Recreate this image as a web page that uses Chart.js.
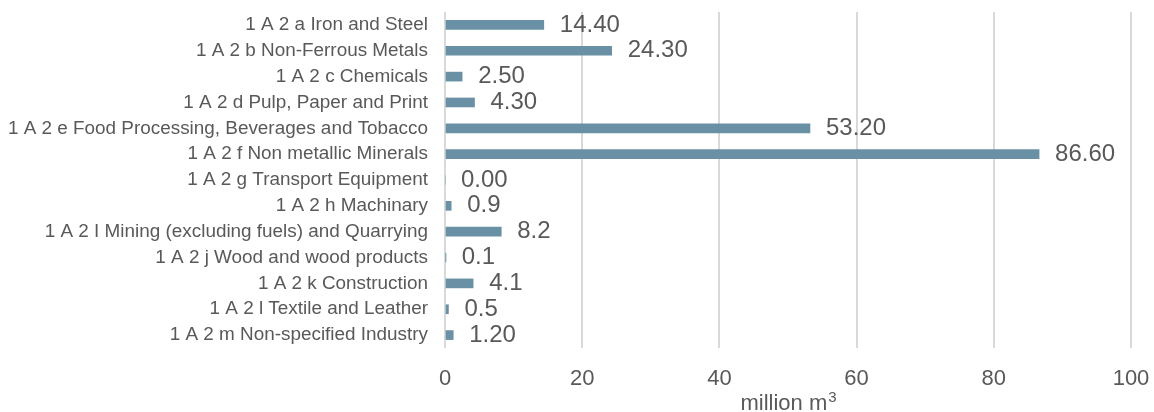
<!DOCTYPE html>
<html>
<head>
<meta charset="utf-8">
<title>Industry sub-categories</title>
<script src="https://cdn.jsdelivr.net/npm/chart.js@4"></script>
<style>
  body { margin: 0; background: #fff; }
  #wrap { width: 1154px; height: 412px; }
</style>
</head>
<body>
<div id="wrap"><canvas id="myChart" width="1154" height="412"></canvas></div>
<script>
// categories and values (million m3)
const categories = [
    '1 A 2 a Iron and Steel',
    '1 A 2 b Non-Ferrous Metals',
    '1 A 2 c Chemicals',
    '1 A 2 d Pulp, Paper and Print',
    '1 A 2 e Food Processing, Beverages and Tobacco',
    '1 A 2 f Non metallic Minerals',
    '1 A 2 g Transport Equipment',
    '1 A 2 h Machinary',
    '1 A 2 I Mining (excluding fuels) and Quarrying',
    '1 A 2 j Wood and wood products',
    '1 A 2 k Construction',
    '1 A 2 l Textile and Leather',
    '1 A 2 m Non-specified Industry'
];
const values = [14.40, 24.30, 2.50, 4.30, 53.20, 86.60, 0.00, 0.9, 8.2, 0.1, 4.1, 0.5, 1.20];
// number of decimals shown in each value label
const decimals = [2, 2, 2, 2, 2, 2, 2, 1, 1, 1, 1, 1, 2];
const xTicks = [0, 20, 40, 60, 80, 100];

const FONT = '"Liberation Sans", Arial, sans-serif';
const TEXT = '#595959';

// writes the value next to the end of each bar
const valueLabels = {
    id: 'valueLabels',
    afterDatasetsDraw(chart) {
        const ctx = chart.ctx;
        const meta = chart.getDatasetMeta(0);
        ctx.save();
        ctx.font = '24px ' + FONT;
        ctx.fillStyle = TEXT;
        ctx.textAlign = 'left';
        ctx.textBaseline = 'middle';
        meta.data.forEach(function (bar, i) {
            ctx.fillText(values[i].toFixed(decimals[i]), bar.x + 16, bar.y);
        });
        ctx.restore();
    }
};

// x axis title with a raised "3"
const axisTitle = {
    id: 'axisTitle',
    afterDraw(chart) {
        const ctx = chart.ctx;
        const area = chart.chartArea;
        const main = 'million m';
        const sup = '3';
        ctx.save();
        ctx.fillStyle = TEXT;
        ctx.textBaseline = 'alphabetic';
        ctx.font = '22px ' + FONT;
        const w1 = ctx.measureText(main).width;
        ctx.font = '15px ' + FONT;
        const w2 = ctx.measureText(sup).width;
        const x0 = (area.left + area.right) / 2 - (w1 + w2) / 2;
        const base = 410;
        ctx.font = '22px ' + FONT;
        ctx.fillText(main, x0, base);
        ctx.font = '15px ' + FONT;
        ctx.fillText(sup, x0 + w1 + 1, base - 8);
        ctx.restore();
    }
};

var ctx = document.getElementById('myChart').getContext('2d');
var chart = new Chart(ctx, {
    type: 'bar',
    data: {
        labels: categories,
        datasets: [{
            data: values,
            backgroundColor: '#6990a4',
            barThickness: 9
        }]
    },
    options: {
        indexAxis: 'y',
        responsive: false,
        animation: false,
        layout: { padding: { top: 12, right: 23, left: 0, bottom: 0 } },
        plugins: {
            legend: { display: false },
            tooltip: { enabled: false }
        },
        scales: {
            x: {
                min: 0,
                max: 100,
                afterBuildTicks: function (scale) {
                    scale.ticks = xTicks.map(v => ({ value: v }));
                },
                afterFit: function (scale) {
                    scale.height = 64;
                    scale.paddingLeft = 0;
                    scale.paddingRight = 0;
                },
                grid: { color: '#d9d9d9', lineWidth: 2, drawTicks: false },
                border: { display: false },
                ticks: {
                    padding: 18,
                    color: TEXT,
                    font: { family: FONT, size: 22 }
                }
            },
            y: {
                afterFit: function (scale) {
                    scale.width = 445;
                    scale.paddingTop = 0;
                    scale.paddingBottom = 0;
                },
                grid: { display: false, drawTicks: false },
                border: { display: false },
                ticks: {
                    padding: 17,
                    autoSkip: false,
                    color: TEXT,
                    font: { family: FONT, size: 18.9 }
                }
            }
        }
    },
    plugins: [valueLabels, axisTitle]
});
</script>
</body>
</html>
